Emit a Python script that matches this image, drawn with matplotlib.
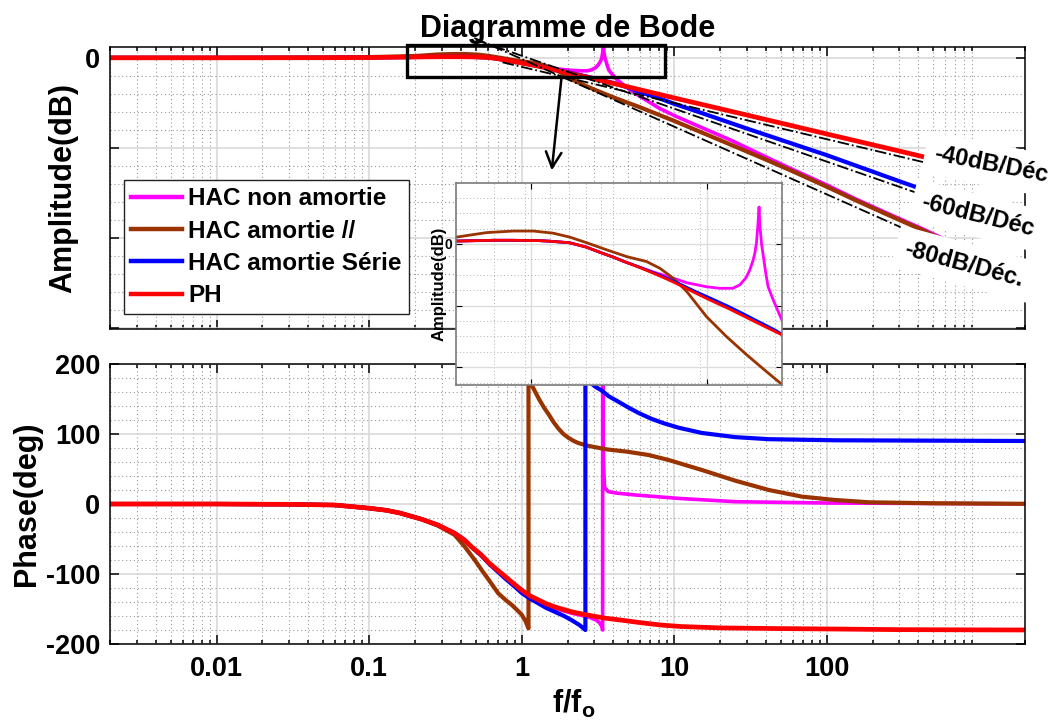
import numpy as np
import matplotlib
matplotlib.use('Agg')
import matplotlib.pyplot as plt
from matplotlib.patches import Rectangle
from matplotlib.ticker import (LogLocator, MultipleLocator, NullFormatter,
                               FixedLocator, FixedFormatter)

plt.rcParams['font.family'] = ['Liberation Sans', 'DejaVu Sans']
plt.rcParams['font.weight'] = 'bold'
plt.rcParams['axes.unicode_minus'] = False
plt.rcParams['mathtext.fontset'] = 'custom'
plt.rcParams['mathtext.bf'] = 'Liberation Sans:bold'
plt.rcParams['mathtext.rm'] = 'Liberation Sans:bold'
plt.rcParams['mathtext.it'] = 'Liberation Sans:bold'

# ---- data (f/fo, dB, deg) ----
labels = ['HAC non amortie', 'HAC amortie //', 'HAC amortie Série', 'PH']
colors = ['#FF00FF', '#993300', '#0000FF', '#FF0000']

# amplitude (dB)
f_na = [0.002, 0.01, 0.05, 0.1, 0.2, 0.3, 0.35, 0.45, 0.5, 0.6, 0.7, 0.8, 0.9, 1.0, 1.15,
        1.3, 1.45, 1.6, 1.77, 2.12, 2.4, 2.7, 2.88, 3.05, 3.16, 3.25, 3.31, 3.36, 3.4, 3.44,
        3.47, 3.52, 3.58, 3.66, 3.74, 3.92, 4.23, 5.0, 6.0, 8.0, 10, 14.5, 24, 40, 60, 100,
        150, 250, 435, 1000, 2000]
a_na = [0, 0, 0.1, 0.3, 0.9, 1.2, 1.2, 1.1, 0.9, 0.4, -1.0, -2.8, -4.3, -5.8, -7.6,
        -9.1, -10.3, -11.4, -12.6, -13.9, -14.4, -14.4, -13.3, -11.0, -8.4, -5.5, -3.0, 0.5, 5.6, 12.0,
        5.6, 0.0, -4.1, -9.5, -13.9, -18.2, -24.4, -34, -43, -56, -64, -76, -92, -110, -124, -141,
        -155.5, -172.5, -190.5, -219.5, -243.5]

f_hp = [0.002, 0.01, 0.05, 0.1, 0.15, 0.211, 0.28, 0.358, 0.43, 0.517, 0.603, 0.703, 0.845,
        1.016, 1.22, 1.38, 1.56, 1.77, 2.12, 2.55, 3.07, 3.69, 4.23, 6.0, 10, 15, 24, 40, 60,
        100, 150, 250, 435, 1000, 2000]
a_hp = [0, 0, 0.3, 0.8, 1.4, 2.2, 3.7, 4.2, 4.2, 3.5, 2.2, 0.4, -1.9,
        -4.1, -5.7, -7.9, -11.1, -15.5, -23.6, -30.1, -36.0, -41.5, -45.5, -55, -70, -82.5, -97, -113, -126,
        -143, -157, -174, -192, -221, -245]

f_hs = [0.002, 0.01, 0.05, 0.1, 0.2, 0.3, 0.35, 0.45, 0.5, 0.6, 0.7, 0.8, 0.9, 1.0, 1.15,
        1.3, 1.5, 1.7, 1.9, 2.2, 2.6, 3.0, 3.5, 4.0, 4.5, 5.0, 6.0, 8.0, 10, 15, 30, 100,
        300, 1000, 2000]
a_hs = [0, 0, 0.1, 0.3, 0.9, 1.2, 1.2, 1.1, 0.9, 0.4, -1.0, -2.8, -4.3, -5.8, -7.6,
        -9.3, -11.4, -13.4, -15.3, -17.6, -20.3, -22.8, -25.6, -28.0, -30.6, -33.0, -38.0, -45.0, -51.0, -61.0, -78.5, -108,
        -137, -168, -186]

f_ph = [0.002, 0.01, 0.05, 0.1, 0.2, 0.3, 0.35, 0.45, 0.5, 0.6, 0.7, 0.8, 0.9, 1.0, 1.15,
        1.3, 1.5, 1.7, 1.9, 2.2, 2.6, 3.0, 3.5, 4.0, 5.0, 6.0, 10, 30, 100, 300, 1000, 2000]
a_ph = [0, 0, 0.1, 0.3, 0.9, 1.2, 1.2, 1.1, 0.9, 0.4, -1.0, -2.8, -4.3, -5.8, -7.7,
        -9.5, -11.7, -13.8, -15.8, -18.3, -21.0, -23.5, -26.2, -28.5, -32.3, -35.5, -44.5, -63.5, -84.5, -103.5, -124.5, -136.5]

# phase (deg)
fp_na = [0.002, 0.01, 0.03, 0.06, 0.1, 0.13, 0.16, 0.22, 0.283, 0.363, 0.42, 0.469, 0.54, 0.61,
         0.7, 0.785, 0.89, 1.0, 1.13, 1.29, 1.45, 1.65, 2.13, 2.76, 3.1, 3.25, 3.36, 3.4, 3.4,
         3.44, 3.5, 3.7, 4.15, 5.56, 10.7, 25.2, 100, 2000]
p_na = [0, 0, -0.5, -1.5, -6, -9, -13, -21.6, -30, -41.6, -51, -61, -72, -84,
        -95, -104, -114, -124, -132, -139, -144, -149, -156, -161.5, -166, -170, -175, -180, 180,
        60, 24, 17.6, 15.7, 12.9, 8, 3.3, 1.4, 0.2]

fp_hp = [0.002, 0.01, 0.03, 0.06, 0.1, 0.13, 0.16, 0.22, 0.283, 0.363, 0.424, 0.493, 0.55, 0.61,
         0.703, 0.785, 0.86, 0.93, 1.0, 1.06, 1.11, 1.11, 1.19, 1.3, 1.4, 1.5, 1.62, 1.74, 1.88,
         2.03, 2.2, 2.36, 2.75, 3.62, 4.9, 6.8, 9.2, 15.2, 25.2, 41.8, 69, 114, 191, 525, 2000]
p_hp = [0, 0, -0.5, -1.5, -6, -9, -13, -21.6, -31, -44, -61, -80, -95, -108.6,
        -127.6, -137, -144, -151, -158, -167, -177.6, 180, 166, 150, 138, 128.5, 117, 108, 100,
        94.5, 90, 87, 83, 78, 74.8, 70, 62.9, 48.6, 33.3, 20, 10.5, 5.7, 2.4, 1, 0.3]

fp_hs = [0.002, 0.01, 0.03, 0.06, 0.1, 0.13, 0.16, 0.22, 0.283, 0.363, 0.42, 0.469, 0.54, 0.61,
         0.7, 0.785, 0.89, 1.0, 1.13, 1.29, 1.45, 1.65, 1.9, 2.13, 2.4, 2.62, 2.62, 2.8, 3.04,
         3.36, 3.72, 4.32, 5.0, 5.85, 7.14, 8.5, 10.7, 15.2, 25.2, 41.8, 114, 2000]
p_hs = [0, 0, -0.5, -1.5, -6, -9, -13, -21.6, -30, -41.6, -51, -61.5, -73, -85,
        -97, -107, -117, -127, -135, -142, -148.5, -154, -160, -166, -173, -180, 180, 174, 167.6,
        162, 154, 146, 138, 130, 121.5, 115.5, 109, 101.5, 95.5, 92.6, 91, 90]

fp_ph = [0.002, 0.01, 0.03, 0.06, 0.1, 0.13, 0.16, 0.22, 0.283, 0.363, 0.42, 0.469, 0.54, 0.61,
         0.7, 0.785, 0.89, 1.0, 1.13, 1.29, 1.45, 1.65, 2.13, 2.76, 3.5, 4.54, 6.0, 8.3, 11,
         20, 50, 100, 300, 2000]
p_ph = [0, 0, -0.5, -1.5, -6, -9, -13, -21.6, -30, -41.6, -51, -61, -72, -84,
        -95, -104, -114, -123, -131, -137, -142.5, -147, -154, -159, -163, -166, -169.5, -173, -175,
        -177, -178, -178.5, -179.5, -180]

# asymptotes (dash-dot)
asym_f = [[0.75, 463], [0.5, 392], [0.49, 316]]
asym_db = [[-5, -117], [20, -150], [22, -189]]
slope_txt = ['-40dB/Déc', '-60dB/Déc', '-80dB/Déc.']

amp = [(f_na, a_na), (f_hp, a_hp), (f_hs, a_hs), (f_ph, a_ph)]
pha = [(fp_na, p_na), (fp_hp, p_hp), (fp_hs, p_hs), (fp_ph, p_ph)]
lws = [2.6, 3.0, 3.0, 3.4]


def style(ax, ymaj, ymin):
    ax.set_xscale('log')
    ax.set_xlim(0.002, 2000)
    ax.xaxis.set_major_locator(FixedLocator([0.01, 0.1, 1, 10, 100]))
    ax.xaxis.set_major_formatter(FixedFormatter(['0.01', '0.1', '1', '10', '100']))
    ax.xaxis.set_minor_locator(LogLocator(base=10, subs=np.arange(2, 10), numticks=30))
    ax.xaxis.set_minor_formatter(NullFormatter())
    ax.yaxis.set_major_locator(MultipleLocator(ymaj))
    ax.yaxis.set_minor_locator(MultipleLocator(ymin))
    ax.grid(which='major', color='#d6d6d6', lw=1.1, ls='-')
    ax.grid(which='minor', color='#9a9a9a', lw=0.8, ls=(0, (1, 2.5)))
    ax.set_axisbelow(True)
    ax.tick_params(which='both', direction='in', top=True, right=True, width=1.1)
    ax.tick_params(which='major', length=6.5, labelsize=19.5)
    ax.tick_params(which='minor', length=3)
    ax.tick_params(axis='y', which='minor', length=0)
    ax.tick_params(axis='x', pad=9)
    ax.tick_params(axis='y', pad=7)
    for s in ax.spines.values():
        s.set_linewidth(1.1)
        s.set_color('black')


fig = plt.figure(figsize=(10.56, 7.2), dpi=100)
W, H = 1056, 720
ax1 = fig.add_axes([110 / W, 1 - 329 / H, 915 / W, 282 / H])
ax2 = fig.add_axes([110 / W, 1 - 644 / H, 915 / W, 280 / H])

# ---- amplitude ----
style(ax1, 100, 20)
for (f, a), c, lab, lw in zip(amp, colors, labels, lws):
    ax1.plot(f, a, color=c, lw=lw, label=lab)
for f, a in zip(asym_f, asym_db):
    ax1.plot(f, a, color='black', lw=1.3, ls='-.', clip_on=False, zorder=4)
ax1.set_ylim(-301, 12)
ax1.set_yticks([-300, -200, -100, 0])
ax1.set_yticklabels(['', '', '', '0'])
ax1.set_xticklabels([])
ax1.set_ylabel('Amplitude(dB)', fontsize=22, fontweight='bold')
ax1.yaxis.set_label_coords(-0.035, 0.5)
ax1.set_title('Diagramme de Bode', fontsize=22, fontweight='bold', pad=7)

leg = ax1.legend(loc='upper left', bbox_to_anchor=(0.015, 0.528), borderaxespad=0,
                 fontsize=17.5, handlelength=2.1, handletextpad=0.25, labelspacing=0.38,
                 borderpad=0.3, fancybox=False, framealpha=1, edgecolor='#222222')
leg.get_frame().set_linewidth(1.0)
for h in leg.get_lines():
    h.set_linewidth(3.2)

ax1.add_patch(Rectangle((0.178, -20.8), 8.67 - 0.178, 35.2, fill=False, ec='black',
                        lw=2.4, clip_on=False, zorder=5))
ax1.annotate('', xy=(1.57, -128), xytext=(1.83, -20.8),
             arrowprops=dict(arrowstyle='->', color='black', lw=1.8, mutation_scale=28),
             annotation_clip=False, zorder=5)

bb = dict(facecolor='white', edgecolor='none', pad=7)
ax1.text(797, -229, slope_txt[2], fontsize=17, fontweight='bold', rotation=-15,
         ha='center', va='center', rotation_mode='anchor', bbox=bb, zorder=6, clip_on=False)
ax1.text(985, -175.6, slope_txt[1], fontsize=17, fontweight='bold', rotation=-14,
         ha='center', va='center', rotation_mode='anchor', bbox=bb, zorder=6, clip_on=False)
ax1.text(1200, -119, slope_txt[0], fontsize=17, fontweight='bold', rotation=-11,
         ha='center', va='center', rotation_mode='anchor', bbox=bb, zorder=6, clip_on=False)

# ---- phase ----
style(ax2, 100, 20)
for (f, p), c, lw in zip(pha, colors, lws):
    ax2.plot(f, p, color=c, lw=lw)
ax2.set_ylim(-200, 200)
ax2.set_ylabel('Phase(deg)', fontsize=22, fontweight='bold')
ax2.yaxis.set_label_coords(-0.0743, 0.5)
ax2.set_xlabel(r'$\mathbf{f/f_o}$', fontsize=22)
ax2.xaxis.set_label_coords(0.507, -0.155)

# ---- inset zoom ----
axi = fig.add_axes([456 / W, 1 - 385 / H, 326 / W, 202 / H])
axi.set_facecolor('white')
axi.set_xscale('log')
for (f, a), c in zip(amp, colors):
    axi.plot(f, a, color=c, lw=2.0)
axi.set_xlim(0.211, 4.25)
axi.set_ylim(-45.8, 19.8)
axi.xaxis.set_major_locator(FixedLocator([0.42, 2.13]))
axi.xaxis.set_major_formatter(NullFormatter())
axi.xaxis.set_minor_locator(LogLocator(base=10, subs=np.arange(2, 10), numticks=30))
axi.xaxis.set_minor_formatter(NullFormatter())
axi.set_yticks([-40, -20, 0])
axi.set_yticklabels(['', '', '0'])
axi.yaxis.set_minor_locator(MultipleLocator(5))
axi.grid(which='major', color='#dcdcdc', lw=1.0)
axi.grid(which='minor', color='#b0b0b0', lw=0.7, ls=(0, (1, 2.5)))
axi.set_axisbelow(True)
axi.tick_params(which='both', direction='in', top=True, right=True, labelsize=10, pad=3)
axi.tick_params(which='major', length=4)
axi.tick_params(which='minor', length=0)
axi.set_ylabel('Amplitude(dB)', fontsize=12, fontweight='bold')
axi.yaxis.set_label_coords(-0.03, 0.5)
for s in axi.spines.values():
    s.set_linewidth(1.2)
    s.set_color('#7a7a7a')

fig.savefig('out.png', dpi=100)
